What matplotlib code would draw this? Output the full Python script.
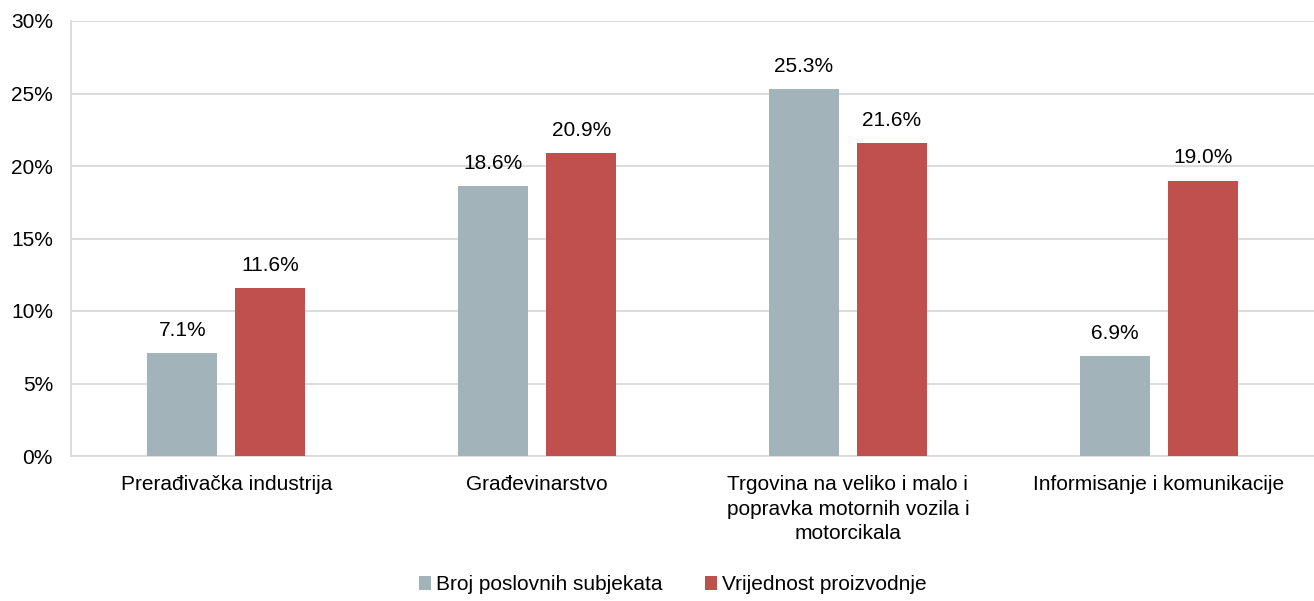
# Grouped bar chart: share by sector

import numpy as np
import matplotlib.pyplot as plt

plt.rcParams['font.family'] = ['Liberation Sans', 'DejaVu Sans']

# Data
categories = ['Prerađivačka industrija',
              'Građevinarstvo',
              'Trgovina na veliko i malo i\npopravka motornih vozila i\nmotorcikala',
              'Informisanje i komunikacije']
broj = [7.1, 18.6, 25.3, 6.9]
vrijednost = [11.6, 20.9, 21.6, 19.0]
series_names = ['Broj poslovnih subjekata', 'Vrijednost proizvodnje']

grey = '#A2B3BA'
red = '#C0504D'

fig = plt.figure(figsize=(13.14, 6.01), dpi=100)
ax = fig.add_axes([71/1314, 145/601, 1243/1314, 435/601])

x = np.arange(len(categories))
w = 0.225
off = 0.1416

b1 = ax.bar(x - off, broj, w, color=grey, label=series_names[0], zorder=3)
b2 = ax.bar(x + off, vrijednost, w, color=red, label=series_names[1], zorder=3)

# Value labels
for bars in (b1, b2):
    for rect in bars:
        h = rect.get_height()
        ax.text(rect.get_x() + rect.get_width()/2, h + 0.9, f'{h:.1f}%',
                ha='center', va='bottom', fontsize=15)

ax.set_xlim(-0.5, len(categories) - 0.5)
ax.set_ylim(0, 30)
ax.set_yticks(np.arange(0, 31, 5))
ax.set_yticklabels([f'{v}%' for v in range(0, 31, 5)], fontsize=15)
ax.set_xticks(x)
ax.set_xticklabels(categories, fontsize=15, linespacing=1.35)
ax.tick_params(axis='y', length=0, pad=13)
ax.tick_params(axis='x', length=0, pad=14)

ax.grid(axis='y', color='#D9D9D9', linewidth=1.3, zorder=0)
for s in ['top', 'right']:
    ax.spines[s].set_visible(False)
ax.spines['left'].set_color('#D9D9D9')
ax.spines['left'].set_linewidth(1.3)
ax.spines['bottom'].set_color('#D9D9D9')
ax.spines['bottom'].set_linewidth(1.3)

# Legend
fig.legend(loc='center', bbox_to_anchor=(0.512, 0.027), ncol=2, frameon=False,
           fontsize=15, handlelength=0.6, handleheight=0.6, handletextpad=0.25,
           columnspacing=2.0)

plt.savefig('out.png', dpi=100)
